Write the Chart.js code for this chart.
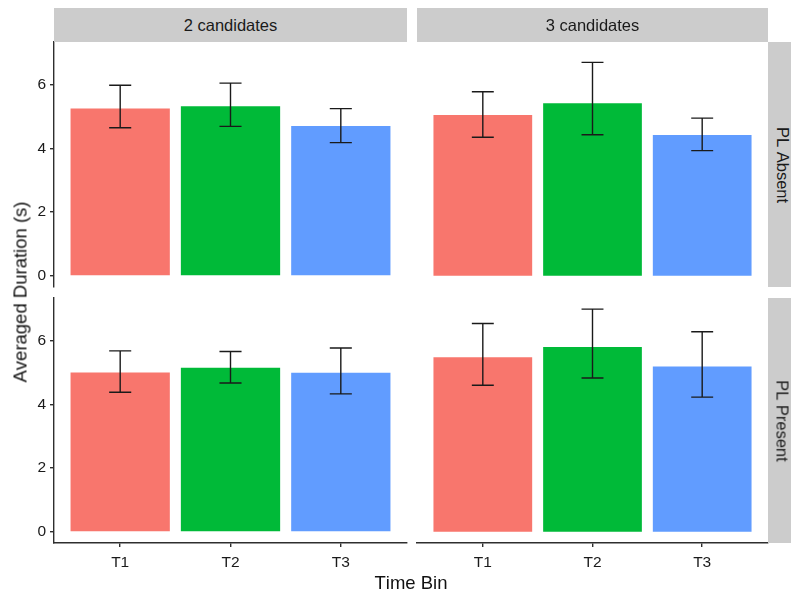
<!DOCTYPE html>
<html>
<head>
<meta charset="utf-8">
<script src="https://cdn.jsdelivr.net/npm/chart.js@4"></script>
<style>
  html, body { margin: 0; padding: 0; background: #fff; }
  #figura { position: relative; width: 791px; height: 597px; overflow: hidden;
            font-family: "Liberation Sans", Arial, sans-serif; color: #1a1a1a; font-kerning: none; }
  #figura canvas { position: absolute; left: 0; top: 0; }
  .strip { position: absolute; background: #cccccc; }
  .strip span { position: absolute; left: 50%; top: 50%; white-space: pre;
                font-size: 16.5px; color: #1a1a1a; font-kerning: none; }
  .titulo { position: absolute; font-size: 18.5px; color: #111; white-space: nowrap; }
</style>
</head>
<body>
<div id="figura"></div>
<script>
// Categorias y paneles
const timeBins = ['T1', 'T2', 'T3'];
const candidateGroups = ['2 candidates', '3 candidates'];
const plConditions = ['PL Absent', 'PL Present'];
const yTicks = [0, 2, 4, 6];
const barColors = ['#F8766D', '#00BA38', '#619CFF'];

// Medias y limites de error por panel
const absent2Mean = [5.25, 5.32, 4.70];
const absent2Low  = [4.65, 4.69, 4.18];
const absent2High = [5.98, 6.05, 5.25];

const absent3Mean = [5.05, 5.42, 4.42];
const absent3Low  = [4.35, 4.43, 3.93];
const absent3High = [5.78, 6.70, 4.95];

const present2Mean = [5.00, 5.15, 4.99];
const present2Low  = [4.38, 4.67, 4.33];
const present2High = [5.68, 5.66, 5.77];

const present3Mean = [5.48, 5.80, 5.19];
const present3Low  = [4.60, 4.83, 4.23];
const present3High = [6.54, 6.99, 6.28];

const W = 791, H = 597;
const figura = document.getElementById('figura');

// Escala comun para los cuatro paneles (expansion del 5%)
const yMaxDato = Math.max(...absent2High, ...absent3High, ...present2High, ...present3High);
const yExp = yMaxDato * 0.05;
const Y_MIN = -yExp, Y_MAX = yMaxDato + yExp;

// Cajas de cada panel en pixeles
const columnas = [{ left: 54, right: 407 }, { left: 417, right: 768 }];
const filas = [{ top: 42, bottom: 287 }, { top: 298, bottom: 543 }];

const ejeColor = '#2e2e2e';

Chart.defaults.font.family = '"Liberation Sans", Arial, sans-serif';
Chart.defaults.color = '#1a1a1a';

const barrasError = {
  id: 'barrasError',
  afterDatasetsDraw(chart, args, opts) {
    const { ctx, scales: { x, y } } = chart;
    ctx.save();
    ctx.strokeStyle = '#1a1a1a';
    ctx.lineWidth = 1.4;
    opts.low.forEach((lo, i) => {
      const hi = opts.high[i];
      const cx = x.getPixelForValue(i + 1);
      const half = x.getPixelForValue(i + 1.1) - cx;
      const yLo = y.getPixelForValue(lo);
      const yHi = y.getPixelForValue(hi);
      ctx.beginPath();
      ctx.moveTo(cx, yLo); ctx.lineTo(cx, yHi);
      ctx.moveTo(cx - half, yHi); ctx.lineTo(cx + half, yHi);
      ctx.moveTo(cx - half, yLo); ctx.lineTo(cx + half, yLo);
      ctx.stroke();
    });
    ctx.restore();
  }
};

function crearPanel(fila, col, medias, bajos, altos) {
  const canvas = document.createElement('canvas');
  canvas.width = W; canvas.height = H;
  figura.appendChild(canvas);

  const caja = { ...columnas[col], ...filas[fila] };
  const conY = col === 0;
  const conX = fila === 1;
  const altoEjeX = 30;

  new Chart(canvas, {
    type: 'bar',
    data: {
      datasets: [{
        data: medias.map((v, i) => ({ x: i + 1, y: v })),
        backgroundColor: barColors,
        borderWidth: 0,
        barPercentage: 0.9,
        categoryPercentage: 1
      }]
    },
    options: {
      responsive: false,
      animation: false,
      devicePixelRatio: 1,
      layout: {
        padding: {
          top: caja.top,
          left: conY ? 0 : caja.left,
          right: W - caja.right,
          bottom: conX ? H - caja.bottom - altoEjeX : H - caja.bottom
        }
      },
      plugins: {
        legend: { display: false },
        tooltip: { enabled: false },
        barrasError: { low: bajos, high: altos }
      },
      scales: {
        x: {
          type: 'linear',
          display: conX,
          min: 0.4,
          max: 3.6,
          offset: false,
          afterBuildTicks: s => { s.ticks = timeBins.map((_, i) => ({ value: i + 1 })); },
          afterFit: s => { if (conX) s.height = altoEjeX; },
          ticks: {
            callback: v => timeBins[v - 1],
            font: { size: 15.5 },
            color: '#1a1a1a',
            padding: 6,
            maxRotation: 0
          },
          grid: { offset: false, drawOnChartArea: false, drawTicks: true, tickLength: 4, color: ejeColor, lineWidth: 1.4 },
          border: { display: true, color: ejeColor, width: 1.4 }
        },
        y: {
          display: conY,
          min: Y_MIN,
          max: Y_MAX,
          afterBuildTicks: s => { s.ticks = yTicks.map(v => ({ value: v })); },
          afterFit: s => { if (conY) s.width = caja.left; },
          ticks: { font: { size: 15.5 }, color: '#1a1a1a', padding: 4 },
          grid: { drawOnChartArea: false, drawTicks: true, tickLength: 4, color: ejeColor, lineWidth: 1.4 },
          border: { display: true, color: ejeColor, width: 1.4 }
        }
      }
    },
    plugins: [barrasError]
  });
}

crearPanel(0, 0, absent2Mean, absent2Low, absent2High);
crearPanel(0, 1, absent3Mean, absent3Low, absent3High);
crearPanel(1, 0, present2Mean, present2Low, present2High);
crearPanel(1, 1, present3Mean, present3Low, present3High);

// Tiras de faceta
function agregarTira(texto, izq, arriba, ancho, alto, giro) {
  const d = document.createElement('div');
  d.className = 'strip';
  Object.assign(d.style, { left: izq + 'px', top: arriba + 'px', width: ancho + 'px', height: alto + 'px' });
  const s = document.createElement('span');
  s.textContent = texto;
  s.style.transform = `translate(-50%, -50%) rotate(${giro}deg)`;
  d.appendChild(s);
  figura.appendChild(d);
}

candidateGroups.forEach((g, i) => {
  const c = columnas[i];
  agregarTira(g, c.left, 8, c.right - c.left, 34, 0);
});

plConditions.forEach((p, i) => {
  const f = filas[i];
  agregarTira(p, 768, f.top, 28, f.bottom - f.top, 90);
});

// Titulos de los ejes
function agregarTitulo(texto, cx, cy, giro) {
  const d = document.createElement('div');
  d.className = 'titulo';
  d.textContent = texto;
  figura.appendChild(d);
  d.style.left = (cx - d.offsetWidth / 2) + 'px';
  d.style.top = (cy - d.offsetHeight / 2) + 'px';
  d.style.transform = `rotate(${giro}deg)`;
}

agregarTitulo('Time Bin', 411, 583, 0);
agregarTitulo('Averaged Duration (s)', 20, 292, -90);
</script>
</body>
</html>
